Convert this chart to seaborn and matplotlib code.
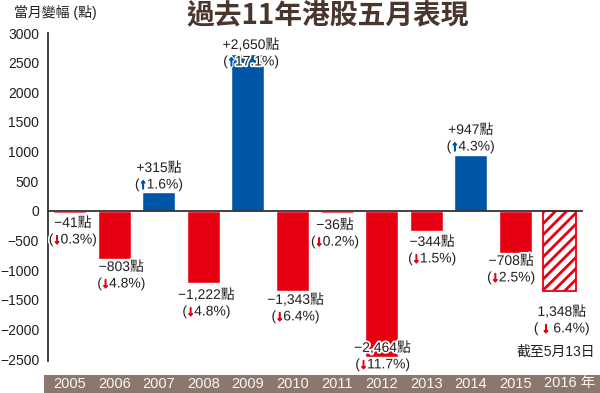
import matplotlib
matplotlib.use("Agg")
import matplotlib.pyplot as plt
import matplotlib.patheffects as pe
from matplotlib.patches import Rectangle
import seaborn as sns
import pandas as pd

# ---------------- data ----------------
years = ["2005", "2006", "2007", "2008", "2009", "2010",
         "2011", "2012", "2013", "2014", "2015", "2016"]
year_labels = ["2005", "2006", "2007", "2008", "2009", "2010",
               "2011", "2012", "2013", "2014", "2015", "2016 年"]
changes = [-41, -803, 315, -1222, 2650, -1343, -36, -2464, -344, 947, -708, -1348]
direction = ["down", "down", "up", "down", "up", "down",
             "down", "down", "down", "up", "down", "down"]
point_labels = ["−41點", "−803點", "+315點", "−1,222點", "+2,650點", "−1,343點",
                "−36點", "−2,464點", "−344點", "+947點", "−708點", "1,348點"]
pct_pre = ["(", "(", "(", "(", "(", "(", "(", "(", "(", "(", "(", "( "]
pct_post = ["0.3%)", "4.8%)", "1.6%)", "4.8%)", "17.1%)", "6.4%)",
            "0.2%)", "11.7%)", "1.5%)", "4.3%)", "2.5%)", " 6.4%)"]
yticks = [3000, 2500, 2000, 1500, 1000, 500, 0, -500, -1000, -1500, -2000, -2500]
title = "過去11年港股五月表現"
ylabel = "當月變幅 (點)"
note_2016 = "截至5月13日"

# ---------------- layout (pixels) ----------------
PX = 0.72  # points per pixel at dpi 100
label_dx = [3, 7, 0, 3, 3, 3, -2, 1, 6, 0, -4, 2]
label_dy = [-9.6, -8.4, 24.3, -11.5, 8.8, -9.3, -12, 9.2, -10.6, 24.8, -8, -21]
line_gap = 16.5

RED = "#E60012"
BLUE = "#0056A6"
BROWN = "#4A362C"
BAND = "#8A776D"
INK = "#231F20"

sns.set_style("white")
plt.rcParams["font.family"] = ["Liberation Sans", "Noto Sans CJK TC", "DejaVu Sans"]
plt.rcParams["hatch.linewidth"] = 2.0
plt.rcParams["axes.unicode_minus"] = True

fig = plt.figure(figsize=(6.0, 3.93), dpi=100)
ax = fig.add_axes([0.0792, 0.0814, 0.8908, 0.8346])

df = pd.DataFrame({"year": years, "change": changes, "dir": direction})
sns.barplot(data=df, x="year", y="change", hue="dir",
            palette={"up": BLUE, "down": RED}, width=0.74, dodge=False,
            saturation=1, errorbar=None, legend=False, ax=ax, zorder=1)

# hatched (partial-month) 2016 bar
for p in ax.patches:
    cx = p.get_x() + p.get_width() / 2
    if abs(cx - 11) < 0.2:
        p.set_facecolor("white")
        p.set_edgecolor(RED)
        p.set_hatch("///")
        p.set_linewidth(1.3)

ax.set_xlim(-0.5, 11.5)
ax.set_ylim(-2530, 3000)
ax.set_yticks(yticks)
ax.set_xlabel("")
ax.set_ylabel("")

for s in ["top", "right"]:
    ax.spines[s].set_visible(False)
ax.spines["left"].set_color("#333333")
ax.spines["left"].set_linewidth(1.3)
ax.spines["bottom"].set_position(("data", 0))
ax.spines["bottom"].set_color("#333333")
ax.spines["bottom"].set_linewidth(1.3)
ax.spines["bottom"].set_zorder(3)

ax.tick_params(axis="y", direction="in", length=7.5, width=1.2, color="#333333",
               labelsize=10, labelcolor=INK, pad=6)
ax.set_xticks(range(len(years)))
ax.tick_params(axis="x", which="major", length=0, labelbottom=False)
ax.set_xticks([i + 0.5 for i in range(len(years))], minor=True)
ax.tick_params(axis="x", which="minor", direction="in", length=6, width=1.2,
               color="#333333")

stroke = [pe.withStroke(linewidth=2.5, foreground="white")]
for i, v in enumerate(changes):
    dx = label_dx[i] * PX
    dy1 = label_dy[i] * PX
    dy2 = (label_dy[i] - line_gap) * PX
    ax.annotate(point_labels[i], xy=(i, v), xytext=(dx, dy1),
                textcoords="offset points", ha="center", va="center",
                fontsize=10, color=INK, path_effects=stroke, zorder=5,
                annotation_clip=False)
    arrow = "↑" if direction[i] == "up" else "↓"
    acol = BLUE if direction[i] == "up" else RED
    full = ax.annotate(pct_pre[i] + arrow + pct_post[i], xy=(i, v), xytext=(dx, dy2),
                       textcoords="offset points", ha="center", va="center",
                       fontsize=10, alpha=0, annotation_clip=False)
    a = ax.annotate(pct_pre[i], xy=(0, 0), xycoords=full, ha="left", va="bottom",
                    fontsize=10, color=INK, path_effects=stroke, zorder=5)
    b = ax.annotate(arrow, xy=(1, 0), xycoords=a, ha="left", va="bottom",
                    fontsize=10, color=acol, fontweight="bold",
                    path_effects=[pe.withStroke(linewidth=2.5, foreground="white"),
                                  pe.withStroke(linewidth=1.0, foreground=acol)],
                    zorder=6)
    ax.annotate(pct_post[i], xy=(1, 0), xycoords=b, ha="left", va="bottom",
                fontsize=10, color=INK, path_effects=stroke, zorder=5)

ax.annotate(note_2016, xy=(11, changes[11]), xytext=(-4 * PX, -61 * PX),
            textcoords="offset points", ha="center", va="center",
            fontsize=10, color=INK, annotation_clip=False)

# category band
fig.patches.append(Rectangle((44 / 600, 0), 1 - 44 / 600, 18 / 393,
                             transform=fig.transFigure, facecolor=BAND,
                             edgecolor="none", zorder=-1))
ax_left, ax_w = 0.0792, 0.8908
for i, lab in enumerate(year_labels):
    xf = ax_left + ax_w * (i + 0.5) / len(years)
    if lab.endswith("年"):
        fig.text(xf - 16 / 600, 9.5 / 393, lab, ha="left", va="center",
                 fontsize=10.5, color="#FAF7F3", zorder=2)
    else:
        fig.text(xf, 9.5 / 393, lab, ha="center", va="center",
                 fontsize=10.5, color="#FAF7F3", zorder=2)

fig.text(0.546, 0.958, title, ha="center", va="center", fontsize=20,
         fontweight="bold", color=BROWN, family=["Noto Sans CJK TC", "DejaVu Sans"])
fig.text(14 / 600, 1 - 13 / 393, ylabel, ha="left", va="center", fontsize=10,
         color=INK)

fig.savefig("out.png", dpi=100)
